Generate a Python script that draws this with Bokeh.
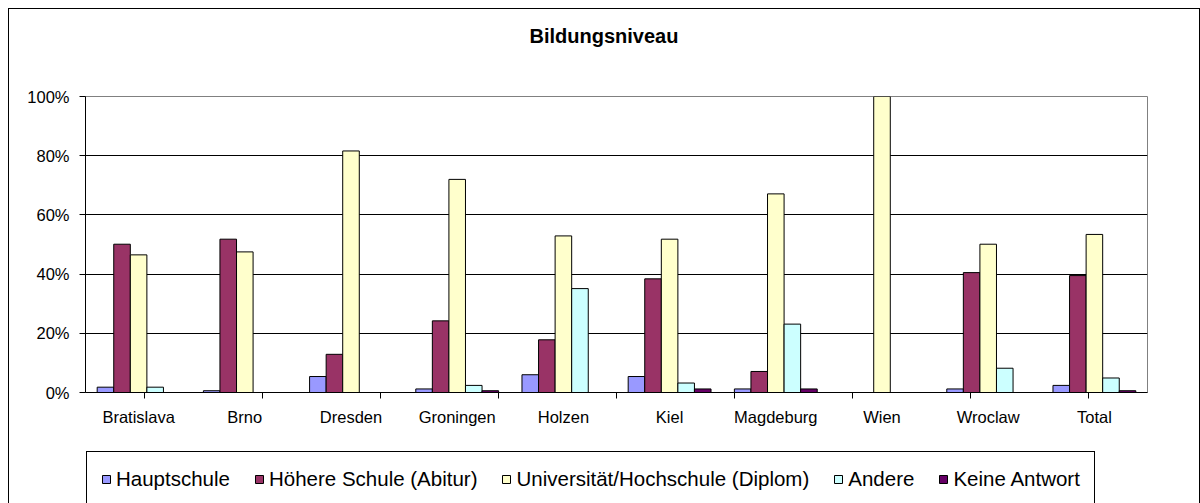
from bokeh.plotting import figure
from bokeh.layouts import column
from bokeh.models import (ColumnDataSource, FactorRange, Range1d, LinearAxis, CategoricalAxis,
                          FixedTicker, PrintfTickFormatter, Legend, LegendItem, Grid, Title)
from bokeh.transform import dodge
from bokeh.embed import file_html
from bokeh.resources import INLINE

# ---------------- data ----------------
cities = ["Bratislava", "Brno", "Dresden", "Groningen", "Holzen", "Kiel",
          "Magdeburg", "Wien", "Wroclaw", "Total"]
series_names = ["Hauptschule", "Höhere Schule (Abitur)",
                "Universität/Hochschule (Diplom)", "Andere", "Keine Antwort"]
hauptschule = [1.8, 0.6, 5.4, 1.2, 6.0, 5.4, 1.2, 0.0, 1.2, 2.4]
hoehere_schule = [50.1, 51.8, 12.9, 24.2, 17.8, 38.4, 7.1, 0.0, 40.5, 39.5]
universitaet = [46.5, 47.5, 81.6, 72.0, 52.9, 51.8, 67.1, 100.0, 50.1, 53.4]
andere = [1.8, 0.0, 0.0, 2.4, 35.1, 3.2, 23.1, 0.0, 8.2, 4.9]
keine_antwort = [0.0, 0.0, 0.0, 0.6, 0.0, 1.2, 1.2, 0.0, 0.0, 0.6]
y_ticks = [0, 20, 40, 60, 80, 100]
title_text = "Bildungsniveau"

colors = ["#9999FF", "#993366", "#FFFFCC", "#CCFFFF", "#660066"]
FONT = "Liberation Sans"

series_values = [hauptschule, hoehere_schule, universitaet, andere, keine_antwort]
keys = ["s0", "s1", "s2", "s3", "s4"]
data = {"city": cities}
for k, v in zip(keys, series_values):
    data[k] = v
source = ColumnDataSource(data)

# ---------------- chart figure ----------------
p = figure(x_range=FactorRange(*cities), y_range=Range1d(0, 100),
           width=1190, height=441, output_backend="svg", toolbar_location=None,
           min_border_left=76, min_border_right=52, min_border_top=87, min_border_bottom=58,
           x_axis_location=None, y_axis_location=None, tools="")
p.background_fill_color = "white"
p.border_fill_color = "white"
p.outline_line_color = "#808080"
p.outline_line_width = 1
p.xgrid.grid_line_color = None
p.ygrid.grid_line_color = None

# y axis
yaxis = LinearAxis(ticker=FixedTicker(ticks=y_ticks),
                   formatter=PrintfTickFormatter(format="%d%%"))
yaxis.axis_line_color = "black"
yaxis.major_tick_line_color = "black"
yaxis.major_tick_out = 6
yaxis.major_tick_in = 0
yaxis.minor_tick_line_color = None
yaxis.major_label_standoff = 10
yaxis.major_label_text_font = FONT
yaxis.major_label_text_font_size = "16.5px"
yaxis.major_label_text_color = "black"
p.add_layout(yaxis, "left")

grid = Grid(dimension=1, ticker=yaxis.ticker)
grid.grid_line_color = "black"
grid.grid_line_width = 1
p.add_layout(grid)

# x axis: tick marks at category boundaries (an auxiliary factor range whose
# factor centres fall on the boundaries between the city categories)
edge_names = ["edge%d" % i for i in range(len(cities) + 1)]
p.extra_x_ranges = {"edges": FactorRange(*edge_names, range_padding=-1,
                                         range_padding_units="absolute")}
tick_axis = CategoricalAxis(x_range_name="edges")
tick_axis.axis_line_color = "black"
tick_axis.major_tick_line_color = "black"
tick_axis.major_tick_out = 6
tick_axis.major_tick_in = 0
tick_axis.major_label_text_font_size = "0px"
tick_axis.major_label_text_alpha = 0
tick_axis.major_label_standoff = 0
p.add_layout(tick_axis, "below")

cat_axis = CategoricalAxis()
cat_axis.axis_line_color = None
cat_axis.major_tick_line_color = None
cat_axis.major_tick_out = 0
cat_axis.major_tick_in = 0
cat_axis.major_label_standoff = 9
cat_axis.major_label_text_font = FONT
cat_axis.major_label_text_font_size = "16.5px"
cat_axis.major_label_text_color = "black"
p.add_layout(cat_axis, "below")

# invisible spacer axis above the frame, then the title above it
spacer = CategoricalAxis()
spacer.axis_line_color = None
spacer.major_tick_line_color = None
spacer.major_tick_out = 45
spacer.major_tick_in = 0
spacer.major_label_text_font_size = "0px"
spacer.major_label_text_alpha = 0
spacer.major_label_standoff = 0
p.add_layout(spacer, "above")

title = Title(text=title_text, align="left", offset=444, standoff=10,
              text_font=FONT, text_font_size="20px", text_font_style="bold",
              text_color="black")
p.add_layout(title, "above")

# bars
bw = 0.156
offsets = [(i - 2) * bw for i in range(5)]
for k, off, col in zip(keys, offsets, colors):
    p.vbar(x=dodge("city", off, range=p.x_range), top=k, width=bw, bottom=0,
           source=source, fill_color=col, line_color="black", line_width=1)

# ---------------- legend strip ----------------
# the same series drawn again (out of view) only to provide the legend swatches
lf = figure(x_range=FactorRange(*cities), y_range=Range1d(1000, 2000),
            width=1190, height=53, output_backend="svg", toolbar_location=None,
            min_border=0, min_border_left=0, min_border_right=0,
            min_border_top=0, min_border_bottom=0,
            x_axis_location=None, y_axis_location=None, tools="")
lf.outline_line_color = None
lf.background_fill_color = "white"
lf.border_fill_color = "white"
lf.xgrid.grid_line_color = None
lf.ygrid.grid_line_color = None
swatches = []
for k, off, col in zip(keys, offsets, colors):
    swatches.append(lf.vbar(x=dodge("city", off, range=lf.x_range), top=k, width=bw,
                            bottom=0, source=source, fill_color=col,
                            line_color="black", line_width=1))
items = [LegendItem(label=n, renderers=[r]) for n, r in zip(series_names, swatches)]
legend = Legend(items=items, location=(1, -3), orientation="horizontal",
                padding=14, spacing=24, margin=0,
                glyph_width=10, glyph_height=10, label_standoff=5, label_height=25,
                label_text_font=FONT, label_text_font_size="20.5px",
                label_text_color="black",
                border_line_color="black", border_line_width=1, border_line_alpha=1,
                background_fill_color="white", background_fill_alpha=1)
lf.add_layout(legend)

layout = column(p, lf, spacing=0,
                styles={"margin-left": "8px", "margin-top": "8px",
                        "border-left": "1px solid black", "border-top": "1px solid black",
                        "border-right": "1px solid black"})

open("out.html", "w").write(file_html(layout, INLINE))
